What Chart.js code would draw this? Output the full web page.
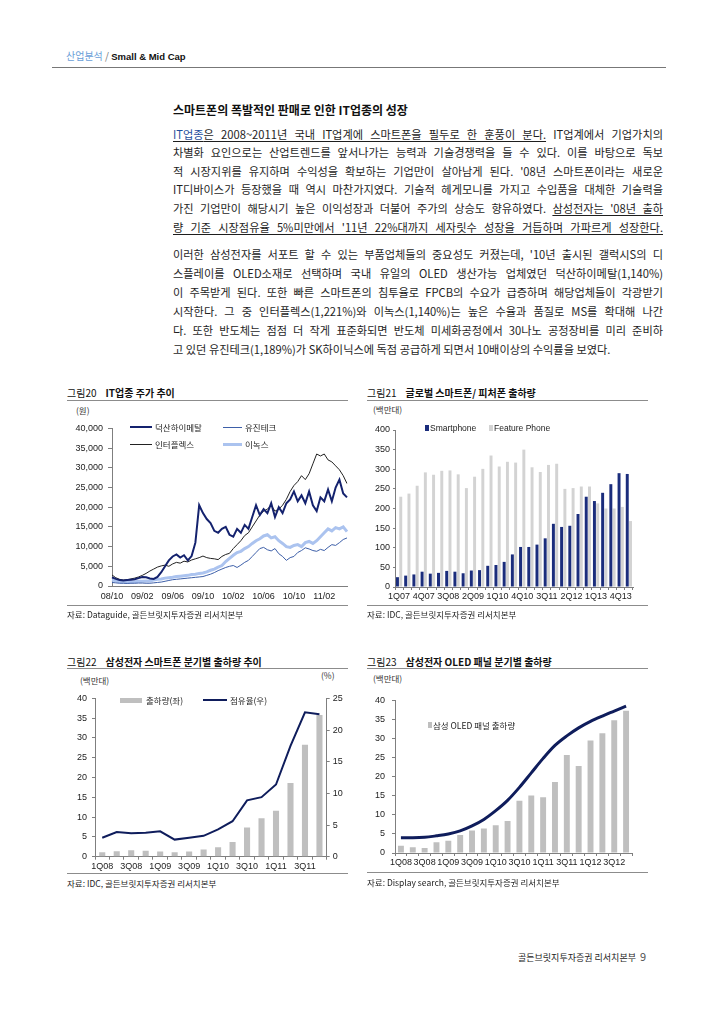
<!DOCTYPE html>
<html><head><meta charset="utf-8">
<script src="https://cdn.jsdelivr.net/npm/chart.js@4.4.1/dist/chart.umd.min.js"></script>
<style>
html,body{margin:0;padding:0;background:#fff;}
body{width:720px;height:1017px;position:relative;overflow:hidden;font-family:'Noto Sans CJK KR','Noto Sans',sans-serif;color:#222;}
.a{position:absolute;white-space:nowrap;}
.rule{position:absolute;height:1px;background:#8c8c8c;}
.ttl{font-size:10px;line-height:14px;color:#111;}
.ttl b{font-weight:700;margin-left:9px;}
.src{font-size:8.5px;line-height:12px;color:#222;}
.unit{font-size:8.5px;line-height:12px;color:#333;}
.lg{font-size:8.5px;line-height:12px;color:#222;}
.para{position:absolute;left:173px;width:490px;font-size:11.2px;color:#1e1e1e;}
.para div{text-align:justify;text-align-last:justify;white-space:normal;}
.p1 div{height:18.6px;line-height:18.6px;}
.p2 div{height:19px;line-height:19px;}
.u{text-decoration:underline;text-underline-offset:2px;}
.blue{color:#1f4f9e;}
canvas{position:absolute;}
</style></head><body>

<!-- header -->
<div class="a" style="left:66px;top:49px;font-size:10px;line-height:14px;"><span style="color:#6aa0d8;">산업분석</span><span style="color:#777;"> / </span><span style="font-family:'Liberation Sans',Arial,sans-serif;font-weight:700;font-size:9.5px;color:#111;">Small &amp; Mid Cap</span></div>
<div class="rule" style="left:52px;top:67px;width:614px;background:#777;"></div>

<!-- section title -->
<div class="a" style="left:173px;top:102px;font-size:12px;line-height:16px;font-weight:700;color:#111;">스마트폰의 폭발적인 판매로 인한 IT업종의 성장</div>

<div class="para p1" style="top:124.7px;">
<div><span class="u"><span class="blue">IT업종</span>은 2008~2011년 국내 IT업계에 스마트폰을 필두로 한 훈풍이 분다.</span> IT업계에서 기업가치의</div>
<div>차별화 요인으로는 산업트렌드를 앞서나가는 능력과 기술경쟁력을 들 수 있다. 이를 바탕으로 독보</div>
<div>적 시장지위를 유지하며 수익성을 확보하는 기업만이 살아남게 된다. '08년 스마트폰이라는 새로운</div>
<div>IT디바이스가 등장했을 때 역시 마찬가지였다. 기술적 헤게모니를 가지고 수입품을 대체한 기술력을</div>
<div>가진 기업만이 해당시기 높은 이익성장과 더불어 주가의 상승도 향유하였다. <span class="u">삼성전자는 '08년 출하</span></div>
<div><span class="u">량 기준 시장점유율 5%미만에서 '11년 22%대까지 세자릿수 성장을 거듭하며 가파르게 성장한다.</span></div>
</div>

<div class="para p2" style="top:244.5px;">
<div>이러한 삼성전자를 서포트 할 수 있는 부품업체들의 중요성도 커졌는데, '10년 출시된 갤럭시S의 디</div>
<div>스플레이를 OLED소재로 선택하며 국내 유일의 OLED 생산가능 업체였던 덕산하이메탈(1,140%)</div>
<div>이 주목받게 된다. 또한 빠른 스마트폰의 침투율로 FPCB의 수요가 급증하며 해당업체들이 각광받기</div>
<div>시작한다. 그 중 인터플렉스(1,221%)와 이녹스(1,140%)는 높은 수율과 품질로 MS를 확대해 나간</div>
<div>다. 또한 반도체는 점점 더 작게 표준화되면 반도체 미세화공정에서 30나노 공정장비를 미리 준비하</div>
<div style="text-align-last:left;">고 있던 유진테크(1,189%)가 SK하이닉스에 독점 공급하게 되면서 10배이상의 수익률을 보였다.</div>
</div>

<!-- Figure 20 -->
<div class="a ttl" style="left:67px;top:386px;">그림20<b>IT업종 주가 추이</b></div>
<div class="rule" style="left:67px;top:400px;width:281px;"></div>
<div class="a unit" style="left:76px;top:404px;">(원)</div>
<canvas id="c20" width="295" height="190" style="left:60px;top:418px;"></canvas>
<div class="a" style="left:130px;top:426px;width:22px;height:2px;background:#14226e;"></div>
<div class="a lg" style="left:155px;top:421px;">덕산하이메탈</div>
<div class="a" style="left:223px;top:427px;width:19px;height:1px;background:#3d5fa8;"></div>
<div class="a lg" style="left:245px;top:421px;">유진테크</div>
<div class="a" style="left:130px;top:443.5px;width:22px;height:1px;background:#222;"></div>
<div class="a lg" style="left:155px;top:438px;">인터플렉스</div>
<div class="a" style="left:223px;top:442.5px;width:19px;height:3px;background:#abc3ef;"></div>
<div class="a lg" style="left:245px;top:438px;">이녹스</div>
<div class="rule" style="left:67px;top:605px;width:281px;"></div>
<div class="a src" style="left:67px;top:608px;">자료: Dataguide, 골든브릿지투자증권 리서치본부</div>

<!-- Figure 21 -->
<div class="a ttl" style="left:367px;top:386px;">그림21<b>글로벌 스마트폰/ 피처폰 출하량</b></div>
<div class="rule" style="left:367px;top:400px;width:281px;"></div>
<div class="a unit" style="left:373px;top:403px;">(백만대)</div>
<canvas id="c21" width="290" height="190" style="left:360px;top:418px;"></canvas>
<div class="a" style="left:425px;top:425px;width:4px;height:6px;background:#1b2d7c;"></div>
<div class="a lg" style="left:430px;top:422px;font-family:'Liberation Sans',Arial,sans-serif;">Smartphone</div>
<div class="a" style="left:489px;top:425px;width:4px;height:6px;background:#d3d3d3;"></div>
<div class="a lg" style="left:494px;top:422px;font-family:'Liberation Sans',Arial,sans-serif;">Feature Phone</div>
<div class="rule" style="left:367px;top:605px;width:281px;"></div>
<div class="a src" style="left:367px;top:608px;">자료: IDC, 골든브릿지투자증권 리서치본부</div>

<!-- Figure 22 -->
<div class="a ttl" style="left:67px;top:655px;">그림22<b>삼성전자 스마트폰 분기별 출하량 추이</b></div>
<div class="rule" style="left:67px;top:668px;width:281px;"></div>
<div class="a unit" style="left:80px;top:674px;">(백만대)</div>
<div class="a unit" style="left:321px;top:669px;">(%)</div>
<canvas id="c22" width="290" height="185" style="left:60px;top:688px;"></canvas>
<div class="a" style="left:120px;top:697.5px;width:22px;height:5px;background:#bfbfbf;"></div>
<div class="a lg" style="left:146px;top:694px;">출하량(좌)</div>
<div class="a" style="left:203px;top:699px;width:24px;height:2px;background:#0f1d5c;"></div>
<div class="a lg" style="left:230px;top:694px;">점유율(우)</div>
<div class="rule" style="left:67px;top:873px;width:281px;"></div>
<div class="a src" style="left:67px;top:877px;">자료: IDC, 골든브릿지투자증권 리서치본부</div>

<!-- Figure 23 -->
<div class="a ttl" style="left:367px;top:655px;">그림23<b>삼성전자 OLED 패널 분기별 출하량</b></div>
<div class="rule" style="left:367px;top:668px;width:281px;"></div>
<div class="a unit" style="left:373px;top:672px;">(백만대)</div>
<canvas id="c23" width="290" height="185" style="left:360px;top:688px;"></canvas>
<div class="a" style="left:428px;top:722px;width:4px;height:6px;background:#bfbfbf;"></div>
<div class="a lg" style="left:433px;top:719px;">삼성 OLED 패널 출하량</div>
<div class="rule" style="left:367px;top:872px;width:281px;"></div>
<div class="a src" style="left:367px;top:876px;">자료: Display search, 골든브릿지투자증권 리서치본부</div>

<!-- footer -->
<div class="a" style="left:518px;top:949px;font-size:9px;line-height:14px;color:#222;">골든브릿지투자증권 리서치본부 <span style="font-size:11px;color:#555;margin-left:2px;">9</span></div>

<script>
// ---------- DATA ----------
// Figure 20: half-monthly stock prices (원)
const stockDates = ['08/10','08/10','08/11','08/11','08/12','08/12','09/01','09/01','09/02','09/02','09/03','09/03','09/04','09/04','09/05','09/05','09/06','09/06','09/07','09/07','09/08','09/08','09/09','09/09','09/10','09/10','09/11','09/11','09/12','09/12','10/01','10/01','10/02','10/02','10/03','10/03','10/04','10/04','10/05','10/05','10/06','10/06','10/07','10/07','10/08','10/08','10/09','10/09','10/10','10/10','10/11','10/11','10/12','10/12','11/01','11/01','11/02','11/02','11/03','11/03','11/04','11/04','11/05'];
const stockTickLabels = ['08/10','09/02','09/06','09/10','10/02','10/06','10/10','11/02'];
const duksan = [2200,1800,1500,1400,1500,1600,1700,2000,2300,2200,1900,1800,2300,3500,5000,6500,7500,8000,7200,7800,6500,7600,11000,20500,18500,17000,16000,14000,13500,14500,15000,13000,12500,14500,13500,15500,14500,17500,20500,18000,19500,18500,21000,17500,20000,18500,21000,22000,24000,21500,23000,21000,24000,20500,19000,22500,21500,24500,21500,25000,27000,23500,22500];
const yujin = [900,800,700,700,650,700,700,750,750,700,700,800,900,1000,1200,1400,1600,1700,1800,1900,2000,2100,2200,2300,2400,2700,3000,3400,3900,4300,4700,5000,5200,4700,5300,6000,6500,7500,8500,9500,9800,9200,8900,9500,8200,7500,6500,7200,7500,8500,9000,9700,9400,9000,8800,9300,9000,9800,10500,10300,11000,11800,12200];
const interflex = [2800,2100,1700,1500,1600,1800,2000,2300,2700,3200,3800,4300,4800,5100,5300,5000,5600,6000,5800,6300,6100,6600,6900,7200,7600,7200,7000,6900,6700,7500,8000,8300,9500,10500,11500,12800,13500,15000,16500,18000,19000,19500,20500,19000,19500,20500,22000,24000,25500,26500,28000,27000,28500,31000,33500,33000,33500,32000,31500,30500,29500,28000,26000];
const inox = [1500,1300,1100,1000,1000,1100,1100,1200,1200,1300,1300,1500,1700,1800,2000,2100,2200,2400,2500,2600,2700,2900,3000,3200,3300,3600,4000,4300,4800,5200,6200,7000,7800,8500,8800,9500,10000,10800,11500,12000,12700,13000,12200,12500,11500,10800,10000,9800,10300,10500,10000,11000,11300,10800,11500,12500,13500,14500,14000,14800,14500,15000,13800];

// Figure 21: global shipments (백만대)
const quarters21 = ['1Q07','2Q07','3Q07','4Q07','1Q08','2Q08','3Q08','4Q08','1Q09','2Q09','3Q09','4Q09','1Q10','2Q10','3Q10','4Q10','1Q11','2Q11','3Q11','4Q11','1Q12','2Q12','3Q12','4Q12','1Q13','2Q13','3Q13','4Q13','1Q14'];
const tickLabels21 = ['1Q07','4Q07','3Q08','2Q09','1Q10','4Q10','3Q11','2Q12','1Q13','4Q13'];
const smartphone = [25,29,32,39,34,36,41,39,35,42,43,54,56,64,83,102,102,108,124,161,153,156,186,230,219,240,262,290,288];
const featurePhone = [230,238,258,292,286,296,297,287,252,281,301,335,307,319,317,350,305,293,311,314,250,252,256,256,213,200,200,204,168];

// Figure 22: Samsung smartphone shipments (백만대) and share (%)
const quarters22 = ['1Q08','2Q08','3Q08','4Q08','1Q09','2Q09','3Q09','4Q09','1Q10','2Q10','3Q10','4Q10','1Q11','2Q11','3Q11','4Q11'];
const tickLabels22 = ['1Q08','3Q08','1Q09','3Q09','1Q10','3Q10','1Q11','3Q11'];
const samsungShip = [1.1,1.4,1.6,1.5,1.3,1.1,1.3,1.8,2.4,3.7,7.4,9.7,11.6,18.6,28.3,35.8];
const samsungShare = [3.0,3.9,3.7,3.8,4.0,2.7,3.0,3.3,4.3,5.6,8.9,9.4,11.4,17.5,22.8,22.5];

// Figure 23: Samsung OLED panel shipments (백만대) with trend
const quarters23 = ['1Q08','2Q08','3Q08','4Q08','1Q09','2Q09','3Q09','4Q09','1Q10','2Q10','3Q10','4Q10','1Q11','2Q11','3Q11','4Q11','1Q12','2Q12','3Q12','4Q12'];
const tickLabels23 = ['1Q08','3Q08','1Q09','3Q09','1Q10','3Q10','1Q11','3Q11','1Q12','3Q12'];
const oledShip = [1.9,1.5,1.3,2.8,3.2,4.7,5.9,6.4,7.3,8.4,13.7,15.1,14.6,18.6,25.7,22.8,29.5,31.4,34.8,37.3];
const oledTrend = [4.0,4.0,4.1,4.5,5.0,5.8,7.1,8.8,11.1,13.8,17.2,21.0,24.8,28.2,30.7,32.8,34.5,35.9,37.2,38.5];

// ---------- CHARTS ----------
const FONT = {family:"'Liberation Sans','Noto Sans CJK KR',Arial,sans-serif", size:9};
const AX = '#7f7f7f';
const base = {responsive:false, animation:false, devicePixelRatio:1,
  plugins:{legend:{display:false}, tooltip:{enabled:false}}, events:[]};

function yAxis(min,max,step,width,tl,pad,fmt,pos){
  return {type:'linear', position:pos||'left', min:min, max:max,
    ticks:{stepSize:step, font:FONT, color:'#222', padding:pad, callback:fmt||(v=>v)},
    grid:{drawOnChartArea:false, drawTicks:true, tickLength:tl, color:AX},
    border:{color:AX, width:1},
    afterFit:s=>{s.width=width;}};
}
function xCat(labelsShown,height,opt){
  return Object.assign({type:'category', offset:true,
    ticks:{font:FONT, color:'#222', autoSkip:false, maxRotation:0, minRotation:0, padding:1,
      callback:function(v,i){const l=this.getLabelForValue(v); return labelsShown.includes(l)?l:'';}},
    grid:{drawOnChartArea:false, drawTicks:true, tickLength:3, offset:true, color:AX},
    border:{color:AX, width:1},
    afterFit:s=>{s.height=height;}}, opt||{});
}

// Figure 20
new Chart(document.getElementById('c20'), {
  type:'line',
  data:{labels:stockDates, datasets:[
    {label:'덕산하이메탈', data:duksan, borderColor:'#14226e', borderWidth:2, pointRadius:0, tension:0},
    {label:'유진테크', data:yujin, borderColor:'#3d5fa8', borderWidth:1, pointRadius:0, tension:0},
    {label:'인터플렉스', data:interflex, borderColor:'#222222', borderWidth:1, pointRadius:0, tension:0},
    {label:'이녹스', data:inox, borderColor:'#abc3ef', borderWidth:3, pointRadius:0, tension:0}
  ]},
  options:Object.assign({}, base, {
    layout:{padding:{top:6,right:8,left:0,bottom:0}},
    scales:{
      x:{type:'category', offset:false,
        ticks:{font:FONT, color:'#222', autoSkip:false, maxRotation:0, minRotation:0, padding:5,
          callback:function(v,i){const l=this.getLabelForValue(v); return (i%2===0 && stockTickLabels.includes(l))?l:'';}},
        grid:{display:false, drawTicks:false},
        border:{color:AX, width:1},
        afterFit:s=>{s.height=22;}},
      y:yAxis(0,40000,5000,52,4,5,v=>v.toLocaleString('en-US'))
    }})
});

// Figure 21
new Chart(document.getElementById('c21'), {
  type:'bar',
  data:{labels:quarters21, datasets:[
    {label:'Smartphone', data:smartphone, backgroundColor:'#1b2d7c', categoryPercentage:0.8, barPercentage:0.9},
    {label:'Feature Phone', data:featurePhone, backgroundColor:'#d3d3d3', categoryPercentage:0.8, barPercentage:0.9}
  ]},
  options:Object.assign({}, base, {
    layout:{padding:{top:12,right:17,left:0,bottom:0}},
    scales:{
      x:xCat(tickLabels21,21,{}),
      y:yAxis(0,400,50,35,2,3)
    }})
});

// Figure 22
new Chart(document.getElementById('c22'), {
  type:'bar',
  data:{labels:quarters22, datasets:[
    {type:'line', label:'점유율(우)', data:samsungShare, yAxisID:'y1', borderColor:'#0f1d5c', borderWidth:2, pointRadius:0, tension:0},
    {type:'bar', label:'출하량(좌)', data:samsungShip, yAxisID:'y', backgroundColor:'#bfbfbf', categoryPercentage:1, barPercentage:0.42}
  ]},
  options:Object.assign({}, base, {
    layout:{padding:{top:8.7,right:0,left:0,bottom:0}},
    scales:{
      x:xCat(tickLabels22,16.3,{}),
      y:yAxis(0,40,5,35,3,5),
      y1:yAxis(0,25,5,23.3,3,3,null,'right')
    }})
});

// Figure 23
new Chart(document.getElementById('c23'), {
  type:'bar',
  data:{labels:quarters23, datasets:[
    {type:'line', label:'추세', data:oledTrend, borderColor:'#0f1d5c', borderWidth:3, pointRadius:0, cubicInterpolationMode:'monotone'},
    {type:'bar', label:'삼성 OLED 패널 출하량', data:oledShip, backgroundColor:'#bfbfbf', categoryPercentage:1, barPercentage:0.5}
  ]},
  options:Object.assign({}, base, {
    layout:{padding:{top:7,right:18,left:0,bottom:0}},
    scales:{
      x:xCat(tickLabels23,20,{}),
      y:yAxis(0,40,5,35,3,7)
    }})
});
</script>
</body></html>
